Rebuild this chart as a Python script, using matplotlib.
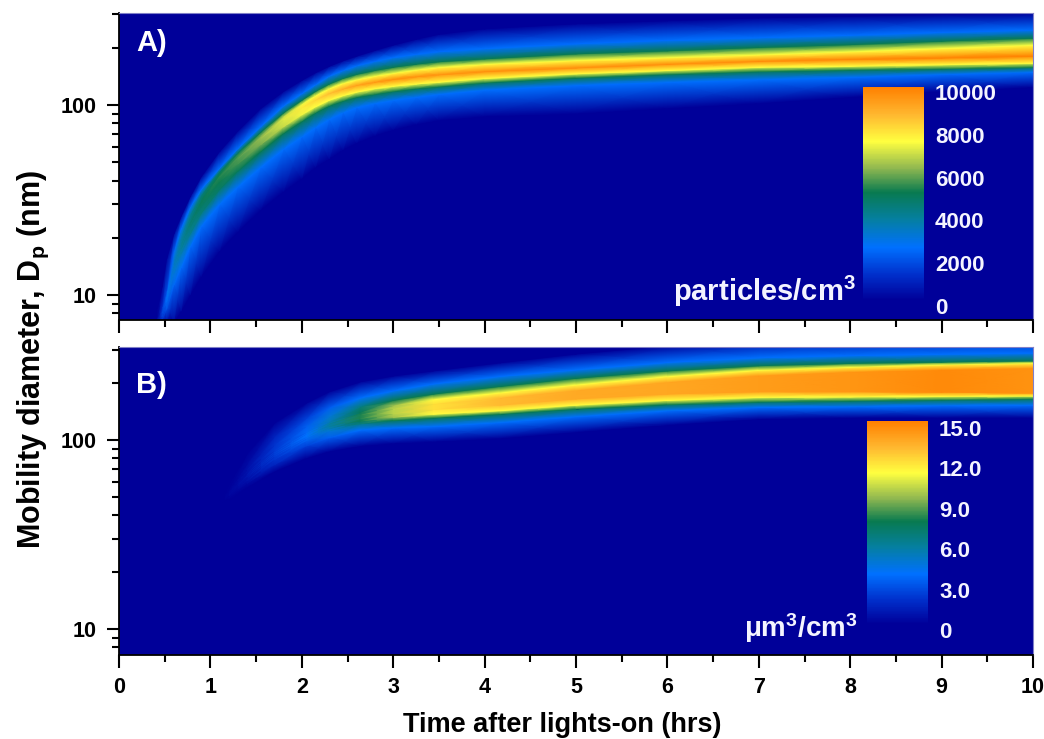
import numpy as np
from matplotlib import pyplot as plt
from matplotlib.colors import LinearSegmentedColormap
from matplotlib.ticker import LogLocator, NullFormatter, FixedLocator, FixedFormatter

plt.rcParams['font.family'] = ['Liberation Sans', 'DejaVu Sans']
plt.rcParams['font.weight'] = 'bold'
plt.rcParams['mathtext.fontset'] = 'custom'
plt.rcParams['mathtext.rm'] = 'Liberation Sans:bold'
plt.rcParams['mathtext.default'] = 'rm'

# panel A, ridge: diameters (nm) of each colour edge at each time
a_times = [0.42, 0.47, 0.52, 0.6, 0.68, 0.78, 0.9, 1.1, 1.3, 1.55, 1.8, 2.0, 2.15, 2.3, 2.45, 2.6, 2.8, 3, 3.25, 3.5, 4, 5, 6, 7, 8, 9, 10]
a_low0 = [7.02, 7.03, 7.05, 7.15, 8.2, 10, 12.5, 17, 21.5, 28, 35, 41, 47, 52, 58, 63, 69, 74, 79, 83, 87, 90, 96, 102, 110, 118, 124]
a_low1 = [7.1, 7.4, 8.4, 11.3, 14, 18, 23, 30, 37, 47, 58.5, 68, 76, 84, 91, 97, 102, 106, 110, 114, 120, 127, 132, 136, 140, 145, 149]
a_low2 = [7.15, 7.7, 9.2, 13, 16.5, 21, 27, 36, 45, 57, 71, 82, 91, 99, 105, 110, 114, 118, 122, 125, 131, 139, 145, 150, 153, 155, 158]
a_low3 = [7.2, 8, 9.6, 13.8, 17.5, 22.8, 29.3, 39.5, 49, 62, 77, 89, 98, 106, 112, 117, 122, 125.5, 129, 132, 138, 146, 152, 158, 160, 163, 166]
a_peak = [7.3, 8.3, 10, 14.5, 18.5, 24, 31, 42, 52.5, 67, 84, 97, 106.5, 115, 121.5, 127, 132, 136.5, 141, 144.5, 150, 157, 164, 170, 174, 177, 181]
a_up3 = [7.4, 8.4, 10.15, 15, 19.3, 25, 32, 43.2, 54, 69, 87, 101, 112, 122, 130, 136, 142, 147, 153, 158, 164, 172, 178, 184, 191, 199, 207]
a_up2 = [7.5, 8.5, 10.3, 15.7, 20.5, 26.5, 33.5, 44.5, 56, 72, 91, 106, 118, 129, 138, 145, 152, 158, 164, 169, 175, 186, 193, 201, 208, 217, 225]
a_up1 = [7.6, 8.7, 10.5, 17, 22.5, 29, 36, 46.5, 59, 77, 99, 115, 128, 142, 152, 161, 170, 178, 185, 191, 198, 210, 219, 226, 233, 241, 248]
a_up0 = [8.5, 11, 15.5, 21, 26, 33, 42, 57, 73, 96, 118, 135, 148, 160, 171, 181, 194, 207, 222, 236, 252, 268, 278, 288, 294, 300, 305]

# panel A values on those edges (particles/cm3)
a_val_peak = [300, 1600, 2500, 3300, 3900, 4500, 4900, 5300, 5700, 6300, 7100, 7800, 8200, 8600, 9000, 9300, 9500, 9700, 9650, 9600, 9700, 9700, 9700, 9800, 9900, 10000, 10000]
a_val3 = [300, 1500, 2400, 3200, 3800, 4300, 4700, 5100, 5500, 6000, 6800, 7300] + [7450] * 15
a_val2 = [200, 1400, 2300, 3000, 3500, 4000, 4400, 4700, 4900] + [5050] * 18
a_val1 = [100, 1100, 1800, 2300] + [2450] * 23
a_val0 = [0] * 27

# panel B, same idea with an extra edge for the wide orange band
b_times = [1.1, 1.2, 1.4, 1.7, 2.05, 2.3, 2.64, 3, 3.44, 4.17, 5, 6, 7, 8, 9, 10]
b_low0 = [46.5, 48, 56, 68, 80, 87, 93, 96, 98, 102, 110, 120, 129, 131, 131, 131]
b_low1 = [46.7, 49.5, 59, 74, 93, 103, 113, 116, 118, 124, 133, 143, 149, 150, 152, 153]
b_low2 = [46.8, 50.5, 61, 79, 99, 112, 122, 127, 131, 137, 146, 154, 159, 161, 163, 165]
b_low3 = [46.9, 51, 63, 82, 102, 115, 126, 132, 137, 143, 153, 162, 168, 169, 170, 171]
b_low4 = [46.95, 51.5, 64, 84, 104, 118, 130, 138, 145, 153, 165, 175, 180, 180, 179, 177]
b_up4 = [47.05, 52.5, 66, 86, 108, 122, 136, 146, 155, 167, 183, 202, 219, 229, 235, 240]
b_up3 = [47.1, 53, 67, 88, 110, 125, 140, 152, 164, 178, 196, 217, 234, 243, 250, 255]
b_up2 = [47.2, 54, 70, 94, 118, 133, 150, 162, 175, 192, 212, 232, 247, 254, 258, 262]
b_up1 = [47.3, 55, 75, 104, 130, 148, 167, 182, 198, 217, 235, 257, 272, 279, 284, 288]
b_up0 = [47.5, 59, 85, 123, 157, 180, 203, 218, 232, 256, 285, 315, 345, 360, 375, 390]

# panel B values (um3/cm3)
b_val4 = [0, 0.2, 0.8, 2.2, 3.7, 5.6, 7.8, 10, 12, 13, 13.5, 13.6, 14, 14.2, 14.6, 14.3]
b_val3 = [0, 0.2, 0.7, 2.1, 3.5, 5.2, 7.4, 9.6, 11.2, 11.2, 11.2, 11.2, 11.2, 11.2, 11.2, 11.2]
b_val2 = [0, 0.15, 0.6, 1.9, 3.2, 4.6, 6.5, 7.6, 7.6, 7.6, 7.6, 7.6, 7.6, 7.6, 7.6, 7.6]
b_val1 = [0, 0.1, 0.4, 1.3, 2.3, 3.2, 3.7, 3.7, 3.7, 3.7, 3.7, 3.7, 3.7, 3.7, 3.7, 3.7]
b_val0 = [0] * 16

a_bar_ticks = [0, 2000, 4000, 6000, 8000, 10000]
a_bar_labels = ['0', '2000', '4000', '6000', '8000', '10000']
b_bar_ticks = [0, 3, 6, 9, 12, 15]
b_bar_labels = ['0', '3.0', '6.0', '9.0', '12.0', '15.0']
x_ticks = [0, 1, 2, 3, 4, 5, 6, 7, 8, 9, 10]

NAVY = '#000099'
cmap = LinearSegmentedColormap.from_list('ridge', [
    (0, NAVY), (0.12, '#0030cc'), (0.245, '#0070ff'), (0.38, '#057f9f'), (0.505, '#087a50'),
    (0.62, '#90b850'), (0.745, '#ffff40'), (0.87, '#ffb830'), (1, '#ff8000')])

W, H = 1044, 739
fig = plt.figure(figsize=(W / 100, H / 100), dpi=100)


def px_axes(left, top, right, bottom):
    return fig.add_axes([left / W, 1 - bottom / H, (right - left) / W, (bottom - top) / H])


def draw_panel(ax, times, edges, values, vmax, ylim):
    n = len(times)
    # extra rows so the navy reaches the frame
    ys = np.array([[6.5] * n] + edges + [[420] * n])
    cs = np.array([[0] * n] + values + [[0] * n])
    xs = np.tile(times, (ys.shape[0], 1))
    mesh = ax.pcolormesh(xs, ys, cs, shading='gouraud', cmap=cmap, vmin=0, vmax=vmax)
    ax.set_facecolor(NAVY)
    ax.set_yscale('log')
    ax.set_xlim(0, 10)
    ax.set_ylim(*ylim)
    ax.xaxis.set_major_locator(FixedLocator(x_ticks))
    ax.xaxis.set_minor_locator(FixedLocator(np.arange(0.5, 10, 1)))
    ax.yaxis.set_major_locator(FixedLocator([10, 100]))
    ax.yaxis.set_major_formatter(FixedFormatter(['10', '100']))
    ax.yaxis.set_minor_locator(LogLocator(base=10, subs=range(2, 10), numticks=12))
    ax.yaxis.set_minor_formatter(NullFormatter())
    ax.tick_params(which='major', length=9, width=1.5, labelsize=15.5)
    ax.tick_params(which='minor', length=5, width=1.5)
    ax.tick_params(axis='x', which='major', pad=7)
    ax.tick_params(axis='y', which='major', pad=7)
    for side in ['left', 'bottom']:
        ax.spines[side].set_linewidth(1.3)
    for side in ['top', 'right']:
        ax.spines[side].set_color('#8080c8')
        ax.spines[side].set_linewidth(0.8)
    return mesh


def draw_bar(mesh, box, ticks, labels, vmax, offset):
    cax = px_axes(*box)
    cb = fig.colorbar(mesh, cax=cax)
    cb.set_ticks([])
    cb.outline.set_visible(False)
    for t, lab in zip(ticks, labels):
        cax.annotate(lab, (1, t / vmax), xycoords='axes fraction', xytext=(11, offset),
                     textcoords='offset pixels', color='#f4f4ff', fontsize=16, va='center', ha='left')


ax1 = px_axes(119, 13, 1033, 320)
mesh1 = draw_panel(ax1, a_times, [a_low0, a_low1, a_low2, a_low3, a_peak, a_up3, a_up2, a_up1, a_up0],
                   [a_val0, a_val1, a_val2, a_val3, a_val_peak, a_val3, a_val2, a_val1, a_val0],
                   10000, (7.37, 305))
ax1.tick_params(axis='x', labelbottom=False)

ax2 = px_axes(119, 347, 1033, 655)
mesh2 = draw_panel(ax2, b_times, [b_low0, b_low1, b_low2, b_low3, b_low4, b_up4, b_up3, b_up2, b_up1, b_up0],
                   [b_val0, b_val1, b_val2, b_val3, b_val4, b_val4, b_val3, b_val2, b_val1, b_val0],
                   15, (7.3, 310))

draw_bar(mesh1, (863, 87, 924, 300), a_bar_ticks, a_bar_labels, 10000, -8)
draw_bar(mesh2, (867, 421, 928, 624), b_bar_ticks, b_bar_labels, 15, -9)

fig.text(136 / W, 1 - 43 / H, 'A)', color='white', fontsize=21, va='center')
fig.text(136 / W, 1 - 385 / H, 'B)', color='white', fontsize=21, va='center')
fig.text(856 / W, 1 - 301 / H, 'particles/cm$^3$', color='#f4f4ff', fontsize=21, ha='right', va='baseline')
fig.text(858 / W, 1 - 637 / H, r'$\mu$m$^3$/cm$^3$', color='#f4f4ff', fontsize=20, ha='right', va='baseline')
fig.text(33 / W, 1 - 360 / H, 'Mobility diameter, D$_p$ (nm)', rotation=90, fontsize=22, ha='center', va='center')
fig.text(562 / W, 1 - 725 / H, 'Time after lights-on (hrs)', fontsize=19.5, ha='center', va='center')

fig.savefig('out.png', dpi=100)
